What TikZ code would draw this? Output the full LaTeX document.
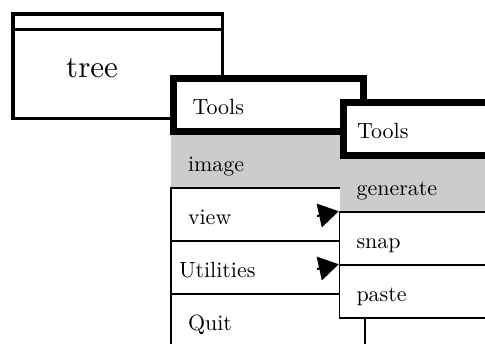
\documentclass[tikz,border=0pt]{standalone}
\usepackage{fontspec}
\setmainfont{lmroman10-regular}[Extension=.otf]
\usetikzlibrary{arrows.meta}
\definecolor{selgray}{gray}{0.8}

\begin{document}
\begin{tikzpicture}[x=1pt, y=-1pt,
  menutext/.style={font=\fontsize{22}{27}\selectfont, text height=19pt, text depth=0pt, align=left, inner ysep=0pt},
  window/.style={draw, line width=3.5pt, fill=white, inner sep=0pt, minimum width=209.5pt, minimum height=104.5pt},
  menuhead/.style={menutext, draw, line width=7pt, fill=white, minimum height=53pt},
  menuitem/.style={menutext, draw, line width=1.5pt, fill=white, minimum height=53pt},
  selitem/.style={menuitem, draw=none, fill=selgray},
  subarrow/.style={-{Triangle[length=20pt, width=24pt]}, line width=2pt}]
\useasboundingbox (0,0) rectangle (485,343);
\clip (0,0) rectangle (485,343);
% main window
\node [window] (tree) at (117.5,66) {};
\draw [line width=3.5pt] ([yshift=-17.5pt]tree.north west) -- ([yshift=-17.5pt]tree.north east);
\node [font=\fontsize{31}{37}\selectfont, anchor=base west, inner sep=0pt] (treelabel) at (66,77) {tree};
% first menu
\node [menuhead, inner xsep=19pt, text width=152pt] (tools) at (268.5,104.5) {Tools};
\node [selitem, inner xsep=17pt, text width=160pt] (image) at (268,161.5) {image};
\node [menuitem, inner xsep=17pt, text width=160pt] (view) at (268,214.5) {view};
\node [menuitem, inner xsep=8pt, text width=178pt] (utilities) at (268,267.5) {Utilities};
\node [menuitem, inner xsep=17pt, text width=160pt] (quit) at (268,320.5) {Quit};
% submenu
\node [menuhead, inner xsep=13.5pt, text width=173pt] (subtools) at (443.5,129) {Tools};
\node [selitem, inner xsep=17pt, text width=166pt] (generate) at (439.5,185.5) {generate};
\node [menuitem, inner xsep=17pt, text width=166pt] (snap) at (439.5,238.5) {snap};
\node [menuitem, inner xsep=17pt, text width=166pt] (paste) at (439.5,291.5) {paste};
% cascade arrows
\coordinate (viewtail) at (317,216);
\coordinate (utiltail) at (317,269);
\draw [subarrow] (viewtail) -- (snap.north west);
\draw [subarrow] (utiltail) -- (paste.north west);
\end{tikzpicture}
\end{document}
